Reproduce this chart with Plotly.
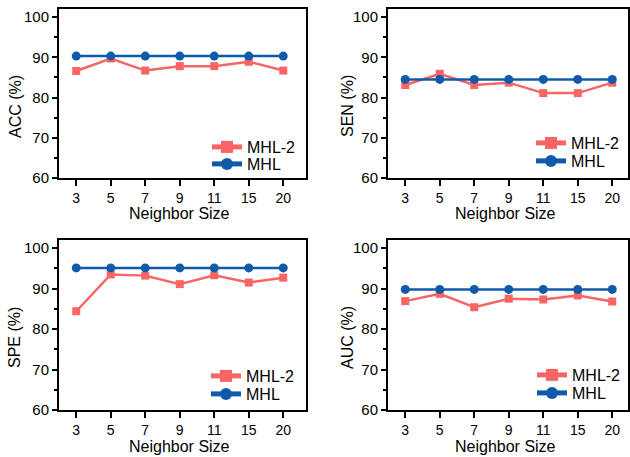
import plotly.graph_objects as go

neighbor_sizes = ["3", "5", "7", "9", "11", "15", "20"]

acc_mhl2 = [86.6, 89.7, 86.7, 87.8, 87.8, 88.9, 86.7]
acc_mhl = [90.3, 90.3, 90.3, 90.3, 90.3, 90.3, 90.3]

sen_mhl2 = [83.1, 85.9, 83.1, 83.7, 81.1, 81.1, 83.7]
sen_mhl = [84.5, 84.5, 84.5, 84.5, 84.5, 84.5, 84.5]

spe_mhl2 = [84.4, 93.5, 93.2, 91.1, 93.3, 91.5, 92.7]
spe_mhl = [95.1, 95.1, 95.1, 95.1, 95.1, 95.1, 95.1]

auc_mhl2 = [86.9, 88.7, 85.4, 87.5, 87.3, 88.3, 86.8]
auc_mhl = [89.8, 89.8, 89.8, 89.8, 89.8, 89.8, 89.8]

panels = [
    ("ACC (%)", acc_mhl2, acc_mhl),
    ("SEN (%)", sen_mhl2, sen_mhl),
    ("SPE (%)", spe_mhl2, spe_mhl),
    ("AUC (%)", auc_mhl2, auc_mhl),
]

W, H = 630, 457
RED = "#F96565"
BLUE = "#0F5BAA"
FONT = "Arial, Liberation Sans, sans-serif"

# pixel boxes (left, right, top, bottom)
boxes = [(59, 306, 9, 178), (388, 628, 9, 178), (59, 306, 240, 410), (388, 628, 240, 410)]
ytitle_pos = [(15, 107), (347, 106), (14, 338), (347, 338)]
xtitle_y = [213, 213, 446, 446]
legend_dx = [148, 143, 147, 144]
legend_cy = [(147, 164), (143, 161), (376, 394), (375, 393)]
spacing = 34.5

fig = go.Figure()
annotations = []
layout = dict(
    width=W, height=H, margin=dict(l=0, r=0, t=0, b=0, autoexpand=False),
    paper_bgcolor="white", plot_bgcolor="white", showlegend=True,
    font=dict(family=FONT, size=15, color="black"),
)

for i, (ytitle, mhl2, mhl) in enumerate(panels):
    n = i + 1
    xa = "x" if n == 1 else f"x{n}"
    ya = "y" if n == 1 else f"y{n}"
    lg_a = "legend" if n == 1 else f"legend{2 * n - 1}"
    lg_b = f"legend{2 * n}"
    fig.add_trace(go.Scatter(
        x=neighbor_sizes, y=mhl2, name="MHL-2", mode="lines+markers",
        line=dict(color=RED, width=2.5), marker=dict(symbol="square", size=8, color=RED),
        xaxis=xa, yaxis=ya, legend=lg_a, showlegend=True,
    ))
    fig.add_trace(go.Scatter(
        x=neighbor_sizes, y=mhl, name="MHL", mode="lines+markers",
        line=dict(color=BLUE, width=2.5), marker=dict(symbol="circle", size=9, color=BLUE),
        xaxis=xa, yaxis=ya, legend=lg_b, showlegend=True,
    ))
    l, r, t, b = boxes[i]
    width_units = (r - l) / spacing
    xkey = "xaxis" if n == 1 else f"xaxis{n}"
    ykey = "yaxis" if n == 1 else f"yaxis{n}"
    layout[xkey] = dict(
        domain=[l / W, r / W], anchor=ya, type="category",
        range=[-0.5, -0.5 + width_units],
        showline=True, linecolor="black", linewidth=2, mirror=True,
        ticks="outside", ticklen=6, tickwidth=2, tickcolor="black",
        showgrid=False, zeroline=False, tickfont=dict(size=14),
    )
    layout[ykey] = dict(
        domain=[1 - b / H, 1 - t / H], anchor=xa,
        range=[60, 102], tickvals=[60, 70, 80, 90, 100],
        showline=True, linecolor="black", linewidth=2, mirror=True,
        ticks="outside", ticklen=5, tickwidth=2, tickcolor="black",
        minor=dict(tickvals=[65, 75, 85, 95], ticks="outside", ticklen=3, tickwidth=1.5, tickcolor="black"),
        showgrid=False, zeroline=False, tickfont=dict(size=15),
    )
    for lg, cy in ((lg_a, legend_cy[i][0]), (lg_b, legend_cy[i][1])):
        layout[lg] = dict(
            x=(l + legend_dx[i]) / W, y=1 - (cy - 17) / H, xanchor="left", yanchor="top",
            bgcolor="rgba(0,0,0,0)", borderwidth=0, font=dict(size=16),
            itemsizing="constant", visible=True,
        )
    annotations.append(dict(
        text=ytitle, x=ytitle_pos[i][0] / W, y=1 - ytitle_pos[i][1] / H,
        xref="paper", yref="paper", showarrow=False, textangle=-90,
        font=dict(size=16), xanchor="center", yanchor="middle",
    ))
    annotations.append(dict(
        text="Neighbor Size", x=(l + r) / 2 / W - 3 / W, y=1 - xtitle_y[i] / H,
        xref="paper", yref="paper", showarrow=False,
        font=dict(size=16), xanchor="center", yanchor="middle",
    ))

layout["annotations"] = annotations
fig.update_layout(**layout)
fig.write_html(
    "out.html",
    config={"displayModeBar": False},
    post_script="document.body.style.margin='0';document.body.style.overflow='hidden';",
)
